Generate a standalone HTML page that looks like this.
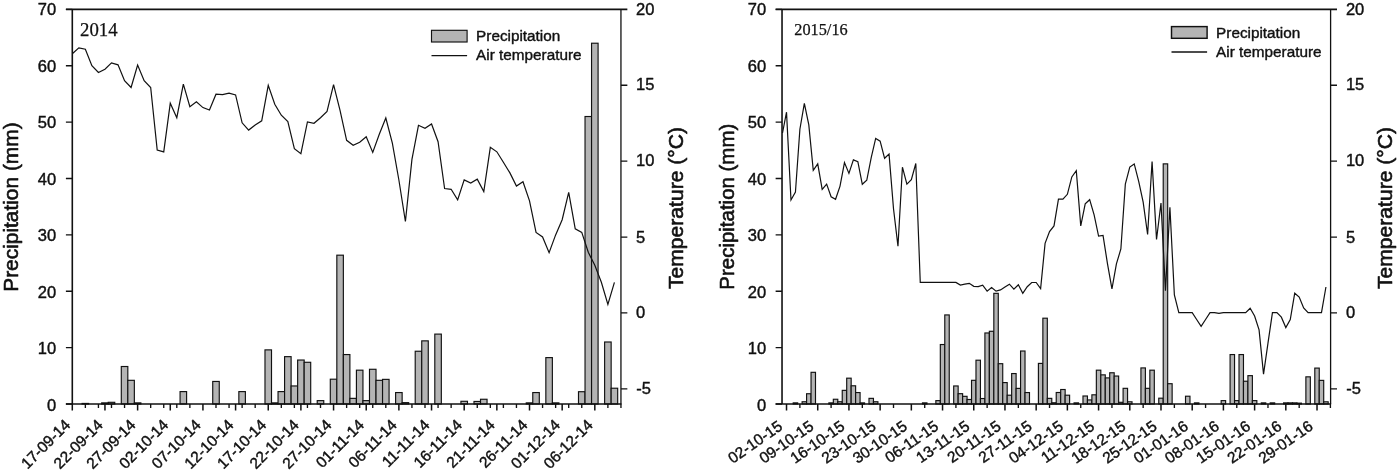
<!DOCTYPE html>
<html lang="en"><head><meta charset="utf-8"><title>Precipitation and air temperature 2014 and 2015/16</title>
<style>html,body{margin:0;padding:0;background:#fff}body{width:1400px;height:474px;overflow:hidden}svg{display:block;will-change:transform}text{font-family:"Liberation Sans",sans-serif;fill:#111;stroke:#111;stroke-width:.4px;stroke-linejoin:round}.ax{stroke-width:.6px}.se{font-family:"Liberation Serif",serif;stroke-width:.25px}</style></head><body>
<svg width="1400" height="474" viewBox="0 0 1400 474">
<rect width="1400" height="474" fill="#fff"/>
<g fill="#b4b4b4" stroke="#111" stroke-width="1.15">
<rect x="82.1" y="403.44" width="6.53" height="0.56"/>
<rect x="101.69" y="402.87" width="6.53" height="1.13"/>
<rect x="108.22" y="402.31" width="6.53" height="1.69"/>
<rect x="121.29" y="366.51" width="6.53" height="37.49"/>
<rect x="127.82" y="380.32" width="6.53" height="23.68"/>
<rect x="134.35" y="402.87" width="6.53" height="1.13"/>
<rect x="180.07" y="391.6" width="6.53" height="12.4"/>
<rect x="212.73" y="381.45" width="6.53" height="22.55"/>
<rect x="238.85" y="391.6" width="6.53" height="12.4"/>
<rect x="264.98" y="349.88" width="6.53" height="54.12"/>
<rect x="271.51" y="402.87" width="6.53" height="1.13"/>
<rect x="278.04" y="391.6" width="6.53" height="12.4"/>
<rect x="284.58" y="356.65" width="6.53" height="47.35"/>
<rect x="291.11" y="385.96" width="6.53" height="18.04"/>
<rect x="297.64" y="360.03" width="6.53" height="43.97"/>
<rect x="304.17" y="362.29" width="6.53" height="41.71"/>
<rect x="317.23" y="400.62" width="6.53" height="3.38"/>
<rect x="330.3" y="379.2" width="6.53" height="24.8"/>
<rect x="336.83" y="255.18" width="6.53" height="148.82"/>
<rect x="343.36" y="354.56" width="6.53" height="49.44"/>
<rect x="349.89" y="398.36" width="6.53" height="5.64"/>
<rect x="356.42" y="370.18" width="6.53" height="33.82"/>
<rect x="362.95" y="400.62" width="6.53" height="3.38"/>
<rect x="369.49" y="369.28" width="6.53" height="34.72"/>
<rect x="376.02" y="380.32" width="6.53" height="23.68"/>
<rect x="382.55" y="379.37" width="6.53" height="24.63"/>
<rect x="395.61" y="392.56" width="6.53" height="11.44"/>
<rect x="402.14" y="402.65" width="6.53" height="1.35"/>
<rect x="415.21" y="351.24" width="6.53" height="52.76"/>
<rect x="421.74" y="340.86" width="6.53" height="63.14"/>
<rect x="434.8" y="334.1" width="6.53" height="69.9"/>
<rect x="460.93" y="401.29" width="6.53" height="2.71"/>
<rect x="473.99" y="401.46" width="6.53" height="2.54"/>
<rect x="480.52" y="399.26" width="6.53" height="4.74"/>
<rect x="526.24" y="402.87" width="6.53" height="1.13"/>
<rect x="532.77" y="392.56" width="6.53" height="11.44"/>
<rect x="545.84" y="357.61" width="6.53" height="46.39"/>
<rect x="552.37" y="402.87" width="6.53" height="1.13"/>
<rect x="578.49" y="391.71" width="6.53" height="12.29"/>
<rect x="585.03" y="116.51" width="6.53" height="287.49"/>
<rect x="591.56" y="43.22" width="6.53" height="360.78"/>
<rect x="604.62" y="341.99" width="6.53" height="62.01"/>
<rect x="611.15" y="388.22" width="6.53" height="15.78"/>
</g>
<polyline fill="none" stroke="#111" stroke-width="1.2" stroke-linejoin="miter" points="72.3,53.8 78.83,47.8 85.36,49.2 91.89,65.6 98.43,72.5 104.96,69.2 111.49,62.9 118.02,64.8 124.55,80.7 131.08,87.5 137.62,65.1 144.15,80.7 150.68,87.5 157.21,150 163.74,151.9 170.27,103.2 176.8,117.7 183.34,84.2 189.87,106.7 196.4,101.8 202.93,107.6 209.46,110.1 215.99,94.2 222.53,94.7 229.06,93.2 235.59,94.9 242.12,122.8 248.65,130.1 255.18,125.1 261.71,120.8 268.25,85.3 274.78,104.3 281.31,115.2 287.84,121.5 294.37,148.6 300.9,153.7 307.44,122 313.97,123.3 320.5,117.7 327.03,111.4 333.56,84.6 340.09,110.6 346.63,140.3 353.16,145.3 359.69,142.3 366.22,136.7 372.75,152.4 379.28,134.2 385.81,118 392.35,143.2 398.88,180 405.41,221.5 411.94,159.4 418.47,125.3 425,128.3 431.54,124 438.07,141.7 444.6,188.5 451.13,189.3 457.66,199.9 464.19,179.9 470.72,183 477.26,179.2 483.79,191.6 490.32,147.3 496.85,151.8 503.38,162.3 509.91,172.9 516.45,186.1 522.98,181.8 529.51,200.8 536.04,232.4 542.57,237 549.1,252.7 555.63,234.9 562.17,219.7 568.7,192.4 575.23,228.8 581.76,232.4 588.29,252.3 594.82,265.3 601.36,282.3 607.89,304.3 614.42,282.3"/>
<g stroke="#111" fill="none" stroke-linecap="butt">
<path d="M72.3 404 V9.4" stroke-width="1.6"/>
<path d="M65.9 9.4 H627.35" stroke-width="1.6"/>
<path d="M65.9 404 H621.45" stroke-width="1.6"/>
<path d="M620.95 9.4 V404" stroke-width="1.3"/>
<path d="M65.9 404H72.3M65.9 347.63H72.3M65.9 291.26H72.3M65.9 234.89H72.3M65.9 178.51H72.3M65.9 122.14H72.3M65.9 65.77H72.3M65.9 9.4H72.3" stroke-width="1.35"/>
<path d="M620.95 85.28H627.35M620.95 161.17H627.35M620.95 237.05H627.35M620.95 312.94H627.35M620.95 388.82H627.35" stroke-width="1.35"/>
<path d="M72.3 404V410.5M104.96 404V410.5M137.62 404V410.5M170.27 404V410.5M202.93 404V410.5M235.59 404V410.5M268.25 404V410.5M300.9 404V410.5M333.56 404V410.5M366.22 404V410.5M398.88 404V410.5M431.54 404V410.5M464.19 404V410.5M496.85 404V410.5M529.51 404V410.5M562.17 404V410.5M594.82 404V410.5" stroke-width="1.5"/>
<path d="M85.36 404V407.9M98.43 404V407.9M111.49 404V407.9M124.55 404V407.9M150.68 404V407.9M163.74 404V407.9M176.8 404V407.9M189.87 404V407.9M215.99 404V407.9M229.06 404V407.9M242.12 404V407.9M255.18 404V407.9M281.31 404V407.9M294.37 404V407.9M307.44 404V407.9M320.5 404V407.9M346.63 404V407.9M359.69 404V407.9M372.75 404V407.9M385.81 404V407.9M411.94 404V407.9M425 404V407.9M438.07 404V407.9M451.13 404V407.9M477.26 404V407.9M490.32 404V407.9M503.38 404V407.9M516.45 404V407.9M542.57 404V407.9M555.63 404V407.9M568.7 404V407.9M581.76 404V407.9M607.89 404V407.9M620.95 404V407.9" stroke-width="1.35"/>
</g>
<g font-size="15.6" text-anchor="end">
<text transform="translate(56.2 410.7) scale(1.06 1)">0</text>
<text transform="translate(56.2 354.18) scale(1.06 1)">10</text>
<text transform="translate(56.2 297.66) scale(1.06 1)">20</text>
<text transform="translate(56.2 241.14) scale(1.06 1)">30</text>
<text transform="translate(56.2 184.61) scale(1.06 1)">40</text>
<text transform="translate(56.2 128.09) scale(1.06 1)">50</text>
<text transform="translate(56.2 71.57) scale(1.06 1)">60</text>
<text transform="translate(56.2 15.05) scale(1.06 1)">70</text>
</g>
<g font-size="15.6">
<text transform="translate(636 15.2) scale(1.06 1)">20</text>
<text transform="translate(636 89.68) scale(1.06 1)">15</text>
<text transform="translate(636 165.67) scale(1.06 1)">10</text>
<text transform="translate(636 242.55) scale(1.06 1)">5</text>
<text transform="translate(636 318.34) scale(1.06 1)">0</text>
<text transform="translate(636.3 394.42) scale(1.06 1)">-5</text>
</g>
<g font-size="15.5" text-anchor="end">
<text transform="translate(71.3 425.8) rotate(-45)">17-09-14</text>
<text transform="translate(103.96 425.8) rotate(-45)">22-09-14</text>
<text transform="translate(136.62 425.8) rotate(-45)">27-09-14</text>
<text transform="translate(169.27 425.8) rotate(-45)">02-10-14</text>
<text transform="translate(201.93 425.8) rotate(-45)">07-10-14</text>
<text transform="translate(234.59 425.8) rotate(-45)">12-10-14</text>
<text transform="translate(267.25 425.8) rotate(-45)">17-10-14</text>
<text transform="translate(299.9 425.8) rotate(-45)">22-10-14</text>
<text transform="translate(332.56 425.8) rotate(-45)">27-10-14</text>
<text transform="translate(365.22 425.8) rotate(-45)">01-11-14</text>
<text transform="translate(397.88 425.8) rotate(-45)">06-11-14</text>
<text transform="translate(430.54 425.8) rotate(-45)">11-11-14</text>
<text transform="translate(463.19 425.8) rotate(-45)">16-11-14</text>
<text transform="translate(495.85 425.8) rotate(-45)">21-11-14</text>
<text transform="translate(528.51 425.8) rotate(-45)">26-11-14</text>
<text transform="translate(561.17 425.8) rotate(-45)">01-12-14</text>
<text transform="translate(593.82 425.8) rotate(-45)">06-12-14</text>
</g>
<text class="ax" font-size="21.1" text-anchor="middle" transform="translate(17.7 207.1) rotate(-90) scale(0.99 1)">Precipitation (mm)</text>
<text class="ax" font-size="21.1" text-anchor="middle" transform="translate(683.1 208) rotate(-90)">Temperature (°C)</text>
<text class="se" font-size="18.8" x="80" y="35.5">2014</text>
<rect x="431.5" y="30.3" width="35.6" height="11.7" fill="#b4b4b4" stroke="#111" stroke-width="1.15"/>
<path d="M431.5 55.7H467.1" stroke="#111" stroke-width="1.25"/>
<text font-size="15.3" x="476.1" y="41.2">Precipitation</text>
<text font-size="15.3" x="476.1" y="60.3">Air temperature</text>
<g fill="#b4b4b4" stroke="#111" stroke-width="1.15">
<rect x="793.21" y="402.87" width="4.46" height="1.13"/>
<rect x="802.12" y="401.75" width="4.46" height="2.25"/>
<rect x="806.58" y="393.74" width="4.46" height="10.26"/>
<rect x="811.04" y="372.32" width="4.46" height="31.68"/>
<rect x="828.87" y="402.87" width="4.46" height="1.13"/>
<rect x="833.33" y="399.26" width="4.46" height="4.74"/>
<rect x="837.79" y="401.75" width="4.46" height="2.25"/>
<rect x="842.24" y="390.36" width="4.46" height="13.64"/>
<rect x="846.7" y="378.18" width="4.46" height="25.82"/>
<rect x="851.16" y="385.79" width="4.46" height="18.21"/>
<rect x="855.62" y="392.56" width="4.46" height="11.44"/>
<rect x="860.08" y="402.87" width="4.46" height="1.13"/>
<rect x="868.99" y="398.36" width="4.46" height="5.64"/>
<rect x="873.45" y="401.75" width="4.46" height="2.25"/>
<rect x="922.49" y="402.87" width="4.46" height="1.13"/>
<rect x="935.86" y="400.62" width="4.46" height="3.38"/>
<rect x="940.32" y="344.53" width="4.46" height="59.47"/>
<rect x="944.78" y="314.93" width="4.46" height="89.07"/>
<rect x="953.69" y="385.96" width="4.46" height="18.04"/>
<rect x="958.15" y="393.68" width="4.46" height="10.32"/>
<rect x="962.61" y="396.33" width="4.46" height="7.67"/>
<rect x="967.07" y="399.49" width="4.46" height="4.51"/>
<rect x="971.53" y="380.32" width="4.46" height="23.68"/>
<rect x="975.98" y="360.2" width="4.46" height="43.8"/>
<rect x="980.44" y="398.53" width="4.46" height="5.47"/>
<rect x="984.9" y="332.97" width="4.46" height="71.03"/>
<rect x="989.36" y="331.28" width="4.46" height="72.72"/>
<rect x="993.82" y="293.34" width="4.46" height="110.66"/>
<rect x="998.27" y="363.69" width="4.46" height="40.31"/>
<rect x="1002.73" y="382.58" width="4.46" height="21.42"/>
<rect x="1007.19" y="395.21" width="4.46" height="8.79"/>
<rect x="1011.65" y="373.56" width="4.46" height="30.44"/>
<rect x="1016.11" y="388.39" width="4.46" height="15.61"/>
<rect x="1020.56" y="351.01" width="4.46" height="52.99"/>
<rect x="1025.02" y="392.56" width="4.46" height="11.44"/>
<rect x="1038.4" y="363.41" width="4.46" height="40.59"/>
<rect x="1042.86" y="318.2" width="4.46" height="85.8"/>
<rect x="1047.31" y="398.36" width="4.46" height="5.64"/>
<rect x="1051.77" y="402.76" width="4.46" height="1.24"/>
<rect x="1056.23" y="392.5" width="4.46" height="11.5"/>
<rect x="1060.69" y="389.51" width="4.46" height="14.49"/>
<rect x="1065.14" y="395.21" width="4.46" height="8.79"/>
<rect x="1074.06" y="402.87" width="4.46" height="1.13"/>
<rect x="1082.98" y="396" width="4.46" height="8"/>
<rect x="1087.43" y="399.94" width="4.46" height="4.06"/>
<rect x="1091.89" y="394.81" width="4.46" height="9.19"/>
<rect x="1096.35" y="370.18" width="4.46" height="33.82"/>
<rect x="1100.81" y="374.86" width="4.46" height="29.14"/>
<rect x="1105.27" y="377.9" width="4.46" height="26.1"/>
<rect x="1109.72" y="372.77" width="4.46" height="31.23"/>
<rect x="1114.18" y="376.04" width="4.46" height="27.96"/>
<rect x="1118.64" y="402.31" width="4.46" height="1.69"/>
<rect x="1123.1" y="388.33" width="4.46" height="15.67"/>
<rect x="1127.56" y="401.8" width="4.46" height="2.2"/>
<rect x="1140.93" y="367.92" width="4.46" height="36.08"/>
<rect x="1145.39" y="388.33" width="4.46" height="15.67"/>
<rect x="1149.85" y="370.18" width="4.46" height="33.82"/>
<rect x="1158.76" y="398.19" width="4.46" height="5.81"/>
<rect x="1163.22" y="163.86" width="4.46" height="240.14"/>
<rect x="1167.68" y="383.71" width="4.46" height="20.29"/>
<rect x="1185.51" y="396.22" width="4.46" height="7.78"/>
<rect x="1194.43" y="402.87" width="4.46" height="1.13"/>
<rect x="1221.17" y="400.62" width="4.46" height="3.38"/>
<rect x="1230.09" y="354.56" width="4.46" height="49.44"/>
<rect x="1234.55" y="400.62" width="4.46" height="3.38"/>
<rect x="1239.01" y="354.56" width="4.46" height="49.44"/>
<rect x="1243.46" y="381.23" width="4.46" height="22.77"/>
<rect x="1247.92" y="375.65" width="4.46" height="28.35"/>
<rect x="1252.38" y="400.62" width="4.46" height="3.38"/>
<rect x="1261.3" y="402.87" width="4.46" height="1.13"/>
<rect x="1270.21" y="402.87" width="4.46" height="1.13"/>
<rect x="1283.59" y="402.87" width="4.46" height="1.13"/>
<rect x="1288.04" y="402.87" width="4.46" height="1.13"/>
<rect x="1292.5" y="402.87" width="4.46" height="1.13"/>
<rect x="1296.96" y="403.15" width="4.46" height="0.85"/>
<rect x="1305.88" y="376.83" width="4.46" height="27.17"/>
<rect x="1314.79" y="368.09" width="4.46" height="35.91"/>
<rect x="1319.25" y="380.38" width="4.46" height="23.62"/>
<rect x="1323.71" y="401.8" width="4.46" height="2.2"/>
</g>
<polyline fill="none" stroke="#111" stroke-width="1.2" stroke-linejoin="miter" points="782.51,133 786.52,112.2 790.98,200 795.44,192 799.89,129.2 804.35,103.4 808.81,124.9 813.27,170.4 817.73,163.9 822.18,189.4 826.64,184.1 831.1,196.8 835.56,199.3 840.02,186.1 844.47,162.6 848.93,173.4 853.39,159.9 857.85,161.7 862.31,184.3 866.76,180.3 871.22,157.7 875.68,138.4 880.14,141.2 884.6,158.3 889.05,154.1 893.51,208.8 897.97,246.2 902.43,167.2 906.89,184.1 911.34,179.6 915.8,163.5 920.26,282.4 955.92,282.4 960.38,285.1 964.84,284.2 969.3,283.3 973.76,286.3 978.21,286.6 982.67,285.2 987.13,291.1 991.59,287.6 996.05,291.1 1000.5,289.9 1004.96,287 1009.42,284.2 1013.88,289.2 1018.34,284.8 1022.79,293.4 1027.25,286.7 1031.71,282.5 1036.17,282.5 1040.63,288.6 1045.08,243.4 1049.54,231.6 1054,225.9 1058.46,199.1 1062.92,199.1 1067.37,194.3 1071.83,176.9 1076.29,170.6 1080.75,225.9 1085.21,203.8 1089.66,199.7 1094.12,214.9 1098.58,236.1 1103.04,235.4 1107.5,263.9 1111.95,288.9 1116.41,263.9 1120.87,249 1125.33,184.2 1129.79,167.1 1134.24,163.9 1138.7,181.3 1143.16,202.2 1147.62,234.5 1152.08,161.6 1156.53,239.5 1160.99,203 1165.45,290.6 1169.91,207.2 1174.37,295 1178.82,312.6 1192.2,312.6 1196.66,319.5 1201.11,326.4 1205.57,319.5 1210.03,312.7 1214.49,312.7 1218.95,313.4 1223.4,312.7 1245.69,312.7 1250.15,308.3 1254.61,316 1259.07,329.9 1263.53,374.1 1267.98,343.2 1272.44,312.7 1276.9,312.7 1281.36,317.2 1285.82,327.6 1290.27,319.5 1294.73,293.2 1299.19,297 1303.65,307.9 1308.11,312.7 1321.48,312.7 1325.94,287"/>
<g stroke="#111" fill="none" stroke-linecap="butt">
<path d="M782.03 404 V9.4" stroke-width="1.6"/>
<path d="M775.63 9.4 H1337" stroke-width="1.6"/>
<path d="M775.63 404 H1331.1" stroke-width="1.6"/>
<path d="M1330.6 9.4 V404" stroke-width="1.3"/>
<path d="M775.63 404H782.03M775.63 347.63H782.03M775.63 291.26H782.03M775.63 234.89H782.03M775.63 178.51H782.03M775.63 122.14H782.03M775.63 65.77H782.03M775.63 9.4H782.03" stroke-width="1.35"/>
<path d="M1330.6 85.28H1337M1330.6 161.17H1337M1330.6 237.05H1337M1330.6 312.94H1337M1330.6 388.82H1337" stroke-width="1.35"/>
<path d="M786.52 404V410.5M817.73 404V410.5M848.93 404V410.5M880.14 404V410.5M911.34 404V410.5M942.55 404V410.5M973.76 404V410.5M1004.96 404V410.5M1036.17 404V410.5M1067.37 404V410.5M1098.58 404V410.5M1129.79 404V410.5M1160.99 404V410.5M1192.2 404V410.5M1223.4 404V410.5M1254.61 404V410.5M1285.82 404V410.5M1317.02 404V410.5" stroke-width="1.5"/>
<path d="M799.89 404V407.9M831.1 404V407.9M862.31 404V407.9M893.51 404V407.9M924.72 404V407.9M955.92 404V407.9M987.13 404V407.9M1018.34 404V407.9M1049.54 404V407.9M1080.75 404V407.9M1111.95 404V407.9M1143.16 404V407.9M1174.37 404V407.9M1205.57 404V407.9M1236.78 404V407.9M1267.98 404V407.9M1299.19 404V407.9M1330.4 404V407.9" stroke-width="1.35"/>
</g>
<g font-size="15.6" text-anchor="end">
<text transform="translate(766.2 410.7) scale(1.06 1)">0</text>
<text transform="translate(766.2 354.18) scale(1.06 1)">10</text>
<text transform="translate(766.2 297.66) scale(1.06 1)">20</text>
<text transform="translate(766.2 241.14) scale(1.06 1)">30</text>
<text transform="translate(766.2 184.61) scale(1.06 1)">40</text>
<text transform="translate(766.2 128.09) scale(1.06 1)">50</text>
<text transform="translate(766.2 71.57) scale(1.06 1)">60</text>
<text transform="translate(766.2 15.05) scale(1.06 1)">70</text>
</g>
<g font-size="15.6">
<text transform="translate(1345.9 15.2) scale(1.06 1)">20</text>
<text transform="translate(1345.9 89.68) scale(1.06 1)">15</text>
<text transform="translate(1345.9 165.67) scale(1.06 1)">10</text>
<text transform="translate(1345.9 242.55) scale(1.06 1)">5</text>
<text transform="translate(1345.9 318.34) scale(1.06 1)">0</text>
<text transform="translate(1346.2 394.42) scale(1.06 1)">-5</text>
</g>
<g font-size="15.5" text-anchor="end">
<text transform="translate(783.52 428.5) rotate(-35)">02-10-15</text>
<text transform="translate(814.73 428.5) rotate(-35)">09-10-15</text>
<text transform="translate(845.93 428.5) rotate(-35)">16-10-15</text>
<text transform="translate(877.14 428.5) rotate(-35)">23-10-15</text>
<text transform="translate(908.34 428.5) rotate(-35)">30-10-15</text>
<text transform="translate(939.55 428.5) rotate(-35)">06-11-15</text>
<text transform="translate(970.76 428.5) rotate(-35)">13-11-15</text>
<text transform="translate(1001.96 428.5) rotate(-35)">20-11-15</text>
<text transform="translate(1033.17 428.5) rotate(-35)">27-11-15</text>
<text transform="translate(1064.37 428.5) rotate(-35)">04-12-15</text>
<text transform="translate(1095.58 428.5) rotate(-35)">11-12-15</text>
<text transform="translate(1126.79 428.5) rotate(-35)">18-12-15</text>
<text transform="translate(1157.99 428.5) rotate(-35)">25-12-15</text>
<text transform="translate(1189.2 428.5) rotate(-35)">01-01-16</text>
<text transform="translate(1220.4 428.5) rotate(-35)">08-01-16</text>
<text transform="translate(1251.61 428.5) rotate(-35)">15-01-16</text>
<text transform="translate(1282.82 428.5) rotate(-35)">22-01-16</text>
<text transform="translate(1314.02 428.5) rotate(-35)">29-01-16</text>
</g>
<text class="ax" font-size="21.1" text-anchor="middle" transform="translate(733.7 206.7) rotate(-90) scale(0.97 1)">Precipitation (mm)</text>
<text class="ax" font-size="21.1" text-anchor="middle" transform="translate(1392.2 208) rotate(-90)">Temperature (°C)</text>
<text class="se" font-size="16.3" x="794.3" y="34.9">2015/16</text>
<rect x="1171.5" y="26.6" width="35.6" height="11.7" fill="#b4b4b4" stroke="#111" stroke-width="1.45"/>
<path d="M1171.5 52H1207.1" stroke="#111" stroke-width="1.55"/>
<text font-size="15.3" x="1216.1" y="37.5">Precipitation</text>
<text font-size="15.3" x="1216.1" y="56.6">Air temperature</text>
</svg></body></html>
